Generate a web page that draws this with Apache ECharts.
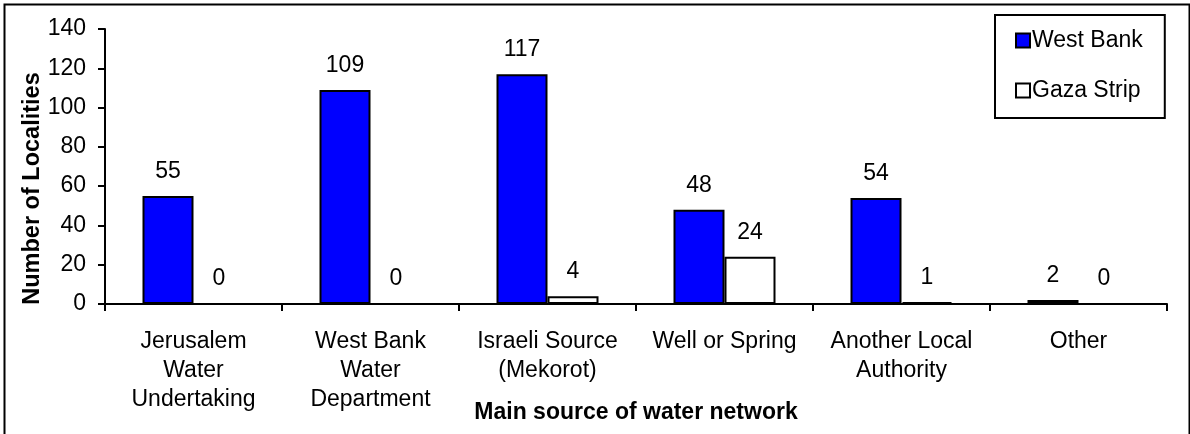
<!DOCTYPE html>
<html>
<head>
<meta charset="utf-8">
<script src="https://cdn.jsdelivr.net/npm/echarts@6/dist/echarts.min.js"></script>
<style>
html,body{margin:0;padding:0;background:#fff;}
#chart{width:1190px;height:434px;}
</style>
</head>
<body>
<div id="chart"></div>
<script>
const categories = [
  "Jerusalem\nWater\nUndertaking",
  "West Bank\nWater\nDepartment",
  "Israeli Source\n(Mekorot)",
  "Well or Spring",
  "Another Local\nAuthority",
  "Other"
];
const westBank = [55, 109, 117, 48, 54, 2];
const gazaStrip = [0, 0, 4, 24, 1, 0];
const seriesNames = ["West Bank", "Gaza Strip"];
const yTicks = { min: 0, max: 140, interval: 20 };
const xTitle = "Main source of water network";
const yTitle = "Number of Localities";

const FONT = "Arial, 'Liberation Sans', sans-serif";
const chart = echarts.init(document.getElementById('chart'), null, { renderer: 'canvas' });

const labelCfg = {
  show: true,
  position: 'top',
  distance: 13,
  color: '#000',
  fontFamily: FONT,
  fontSize: 23
};

chart.setOption({
  animation: false,
  backgroundColor: '#fff',
  textStyle: { fontFamily: FONT, color: '#000' },
  grid: { left: 105, right: 23, top: 29, bottom: 130, containLabel: false, outerBoundsMode: 'none' },
  legend: {
    orient: 'vertical',
    left: 995,
    top: 15,
    icon: 'rect',
    itemWidth: 14,
    itemHeight: 14,
    itemGap: 27,
    padding: [14, 22, 16, 20],
    borderColor: '#000',
    borderWidth: 2,
    backgroundColor: '#fff',
    textStyle: { fontFamily: FONT, fontSize: 23, color: '#000', padding: [0, 0, 0, -3] },
    data: seriesNames
  },
  xAxis: {
    type: 'category',
    data: categories,
    name: xTitle,
    nameLocation: 'middle',
    nameGap: 97,
    nameMoveOverlap: false,
    nameTextStyle: { fontFamily: FONT, fontSize: 23, fontWeight: 'bold', color: '#000' },
    axisLine: { lineStyle: { color: '#000', width: 2 } },
    axisTick: { show: true, inside: false, length: 7, alignWithLabel: false, lineStyle: { color: '#000', width: 2 } },
    axisLabel: { interval: 0, margin: 23, fontFamily: FONT, fontSize: 23, color: '#000', lineHeight: 29 },
    splitLine: { show: false }
  },
  yAxis: {
    type: 'value',
    min: yTicks.min,
    max: yTicks.max,
    interval: yTicks.interval,
    name: yTitle,
    nameLocation: 'middle',
    nameGap: 60,
    nameMoveOverlap: false,
    nameTextStyle: { fontFamily: FONT, fontSize: 23.5, fontWeight: 'bold', color: '#000', padding: [0, 44, 0, 0] },
    axisLine: { show: true, lineStyle: { color: '#000', width: 2 } },
    axisTick: { show: true, inside: false, length: 7, lineStyle: { color: '#000', width: 2 } },
    axisLabel: { margin: 19, fontFamily: FONT, fontSize: 23, color: '#000' },
    splitLine: { show: false }
  },
  series: [
    {
      name: seriesNames[0],
      type: 'bar',
      data: westBank,
      barWidth: 51,
      barGap: '0%',
      itemStyle: { color: '#0000ff', borderColor: '#000', borderWidth: 2 },
      label: labelCfg
    },
    {
      name: seriesNames[1],
      type: 'bar',
      data: gazaStrip,
      barWidth: 51,
      barGap: '0%',
      itemStyle: { color: '#ffffff', borderColor: '#000', borderWidth: 2 },
      label: labelCfg
    }
  ],
  graphic: [
    {
      type: 'rect',
      left: 2, top: 2,
      shape: { x: 0, y: 0, width: 1185, height: 440 },
      style: { fill: 'none', stroke: '#000', lineWidth: 2 },
      silent: true,
      z: 100
    }
  ]
});
</script>
</body>
</html>
